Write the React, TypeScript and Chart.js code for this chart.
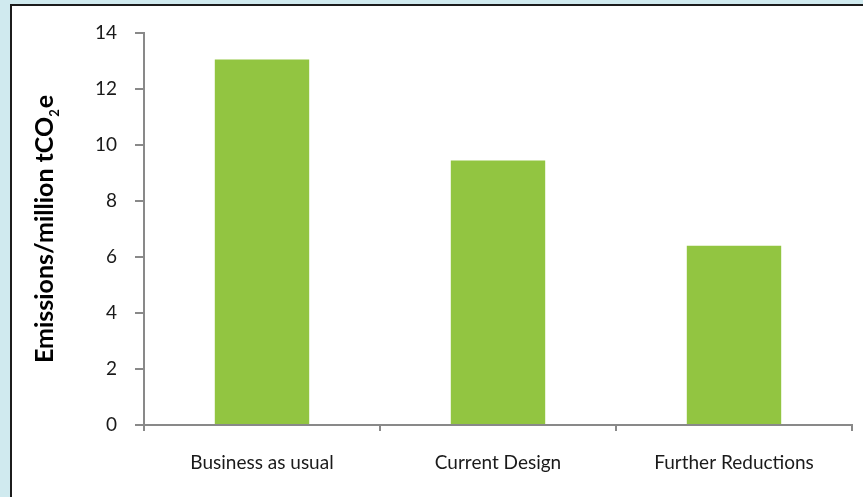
import React, { useEffect, useRef } from "react";
import { Chart, registerables } from "chart.js";

Chart.register(...registerables);

const categories = ["Business as usual", "Current Design", "Further Reductions"];
const emissions = [13.05, 9.45, 6.4];
const yMin = 0;
const yMax = 14;
const yStep = 2;
const titleMain = "Emissions/million tCO";
const titleSub = "2";
const titleEnd = "e";

const FONT = "Lato, 'Open Sans', sans-serif";
const AXIS = "#898989";

const titlePlugin = {
  id: "yTitleSub",
  afterDraw(chart: any) {
    const { ctx, chartArea } = chart;
    const cy = (chartArea.top + chartArea.bottom) / 2;
    ctx.save();
    ctx.translate(45, cy);
    ctx.rotate(-Math.PI / 2);
    ctx.fillStyle = "#000";
    ctx.textBaseline = "middle";
    const big = `bold 25px ${FONT}`;
    const small = `bold 13px ${FONT}`;
    ctx.font = big;
    const w1 = ctx.measureText(titleMain).width;
    const w3 = ctx.measureText(titleEnd).width;
    ctx.font = small;
    const w2 = ctx.measureText(titleSub).width + 1;
    const total = w1 + w2 + w3;
    let x = -total / 2;
    ctx.textAlign = "left";
    ctx.font = big;
    ctx.fillText(titleMain, x, 0);
    x += w1;
    ctx.font = small;
    ctx.fillText(titleSub, x, 10);
    x += w2;
    ctx.font = big;
    ctx.fillText(titleEnd, x, 0);
    ctx.restore();
  },
};

export default function App() {
  const ref = useRef<HTMLCanvasElement>(null);

  useEffect(() => {
    if (!ref.current) return;
    const chart = new Chart(ref.current, {
      type: "bar",
      data: {
        labels: categories,
        datasets: [
          {
            data: emissions,
            backgroundColor: "#92C541",
            borderWidth: 0,
            barPercentage: 0.4,
            categoryPercentage: 1,
          },
        ],
      },
      options: {
        responsive: false,
        animation: false,
        layout: { padding: { top: 33, right: 11, left: 0, bottom: 0 } },
        plugins: {
          legend: { display: false },
          tooltip: { enabled: false },
          title: { display: false },
        },
        scales: {
          x: {
            grid: {
              display: true,
              drawOnChartArea: false,
              drawTicks: true,
              tickLength: 6,
              color: AXIS,
              lineWidth: 2,
              offset: true,
            },
            border: { display: true, color: AXIS, width: 2 },
            ticks: {
              color: "#1a1a1a",
              font: { family: FONT, size: 19 },
              padding: 20,
              maxRotation: 0,
            },
            afterFit: (scale: any) => {
              scale.height = 72;
            },
          },
          y: {
            min: yMin,
            max: yMax,
            grid: {
              display: true,
              drawOnChartArea: false,
              drawTicks: true,
              tickLength: 9,
              color: AXIS,
              lineWidth: 2,
            },
            border: { display: true, color: AXIS, width: 2 },
            ticks: {
              stepSize: yStep,
              color: "#1a1a1a",
              font: { family: FONT, size: 19 },
              padding: 18,
            },
            afterFit: (scale: any) => {
              scale.width = 144;
            },
          },
        },
      },
      plugins: [titlePlugin],
    });
    return () => chart.destroy();
  }, []);

  return (
    <div
      style={{
        position: "fixed",
        left: 0,
        top: 0,
        width: 863,
        height: 497,
        background: "#d0eaef",
        overflow: "hidden",
      }}
    >
      <div
        style={{
          position: "absolute",
          left: 10,
          top: 4,
          width: 900,
          height: 600,
          background: "#fff",
          border: "2px solid #1c1c1c",
          boxSizing: "border-box",
        }}
      />
      <canvas
        ref={ref}
        width={863}
        height={497}
        style={{ position: "absolute", left: 0, top: 0, display: "block" }}
      />
    </div>
  );
}
